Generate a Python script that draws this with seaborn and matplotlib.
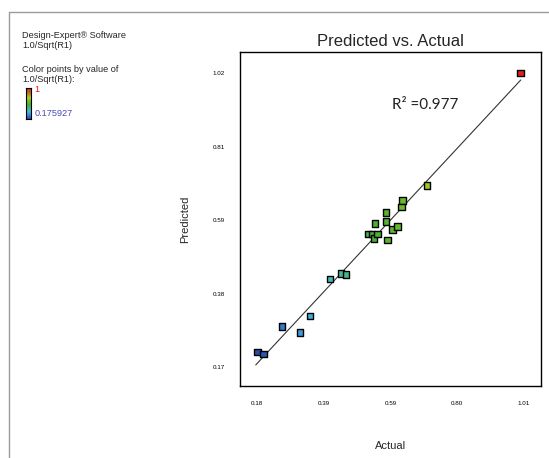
import numpy as np
import pandas as pd
import matplotlib
matplotlib.use("Agg")
import matplotlib.pyplot as plt
from matplotlib.colors import LinearSegmentedColormap, Normalize
from matplotlib.lines import Line2D
import seaborn as sns

# Actual vs predicted values of the transformed response 1.0/Sqrt(R1)
actual = [0.181, 0.200, 0.257, 0.314, 0.345, 0.407, 0.441, 0.456,
          0.526, 0.537, 0.544, 0.555, 0.547, 0.581, 0.581, 0.586,
          0.601, 0.616, 0.632, 0.630, 0.709, 1.000]
predicted = [0.214, 0.208, 0.287, 0.269, 0.317, 0.424, 0.441, 0.438,
             0.555, 0.555, 0.542, 0.555, 0.585, 0.617, 0.591, 0.537,
             0.568, 0.577, 0.651, 0.633, 0.695, 1.020]

color_min = 0.175927
color_max = 1.0
r_squared = 0.977

x_ticks = [0.18, 0.3875, 0.595, 0.8025, 1.01]
x_tick_labels = ["0.18", "0.39", "0.59", "0.80", "1.01"]
y_ticks = [0.17, 0.3825, 0.595, 0.8075, 1.02]
y_tick_labels = ["0.17", "0.38", "0.59", "0.81", "1.02"]

df = pd.DataFrame({"Actual": actual, "Predicted": predicted})

sns.set_style("white")
plt.rcParams["font.family"] = ["Liberation Sans", "DejaVu Sans"]

# Blue -> cyan -> green -> yellow -> red gradient for point colouring
cmap = LinearSegmentedColormap.from_list(
    "de_gradient",
    [(0.00, "#2a4aa8"), (0.16, "#3c9ad8"), (0.24, "#38c4d8"),
     (0.32, "#46b89a"), (0.45, "#4aae34"), (0.60, "#78c028"),
     (0.68, "#b2d21e"), (0.85, "#c06a20"), (1.00, "#e41e1e")])
norm = Normalize(color_min, color_max)

fig = plt.figure(figsize=(5.49, 4.58), dpi=100)
ax = fig.add_axes([240 / 549, 1 - 386 / 458, 301 / 549, 334 / 458])

# Reference line y = x
diag = pd.DataFrame({"Actual": [color_min, color_max],
                     "Predicted": [color_min, color_max]})
sns.lineplot(data=diag, x="Actual", y="Predicted", ax=ax,
             color="#333333", linewidth=0.8)

sns.scatterplot(data=df, x="Actual", y="Predicted", hue="Actual",
                palette=cmap, hue_norm=norm, marker="s", s=22,
                edgecolor="black", linewidth=1.0, legend=False, ax=ax,
                zorder=3)

ax.set_xlim(0.127, 1.063)
ax.set_ylim(0.115, 1.081)
ax.set_xticks(x_ticks)
ax.set_xticklabels(x_tick_labels)
ax.set_yticks(y_ticks)
ax.set_yticklabels(y_tick_labels)
ax.tick_params(axis="both", direction="out", length=6, width=0.8,
               labelsize=4.5, pad=5, colors="black")
for sp in ax.spines.values():
    sp.set_color("black")
    sp.set_linewidth(1.0)

ax.set_title("Predicted vs. Actual", fontsize=12, pad=4)
ax.set_xlabel("Actual", fontsize=8, labelpad=25)
ax.set_ylabel("Predicted", fontsize=8, labelpad=16)

ax.text(0.702, 0.927, f"R\u00b2 =" + f"{r_squared:.3f}",
        fontsize=11, family=["Lato", "DejaVu Sans"], color="#222222",
        ha="center", va="center", transform=ax.transData)

# Side annotation block
fig.text(22 / 549, 1 - 35 / 458, "Design-Expert\u00ae Software",
         fontsize=6.6, va="center", ha="left")
fig.text(22 / 549, 1 - 46 / 458, "1.0/Sqrt(R1)",
         fontsize=6.6, va="center", ha="left")
fig.text(22 / 549, 1 - 69 / 458, "Color points by value of",
         fontsize=6.6, va="center", ha="left")
fig.text(22 / 549, 1 - 80 / 458, "1.0/Sqrt(R1):",
         fontsize=6.6, va="center", ha="left")

cax = fig.add_axes([26 / 549, 1 - 119 / 458, 5 / 549, 31 / 458])
gradient = np.linspace(color_max, color_min, 100).reshape(-1, 1)
cax.imshow(gradient, aspect="auto", cmap=cmap, norm=norm)
cax.set_xticks([])
cax.set_yticks([])
for sp in cax.spines.values():
    sp.set_color("black")
    sp.set_linewidth(0.8)

fig.text(34 / 549, 1 - 89 / 458, "1", fontsize=6.6, color="#e41e1e",
         va="center", ha="left")
fig.text(35 / 549, 1 - 113 / 458, f"{color_min:.6f}", fontsize=6.6,
         color="#4a4ab8", va="center", ha="left")

# Outer panel border
fig.add_artist(Line2D([9 / 549, 1.0], [1 - 12 / 458, 1 - 12 / 458],
                      transform=fig.transFigure, color="#9a9a9a", lw=1.0))
fig.add_artist(Line2D([9 / 549, 9 / 549], [0.0, 1 - 12 / 458],
                      transform=fig.transFigure, color="#9a9a9a", lw=1.0))

fig.savefig("out.png", dpi=100)
